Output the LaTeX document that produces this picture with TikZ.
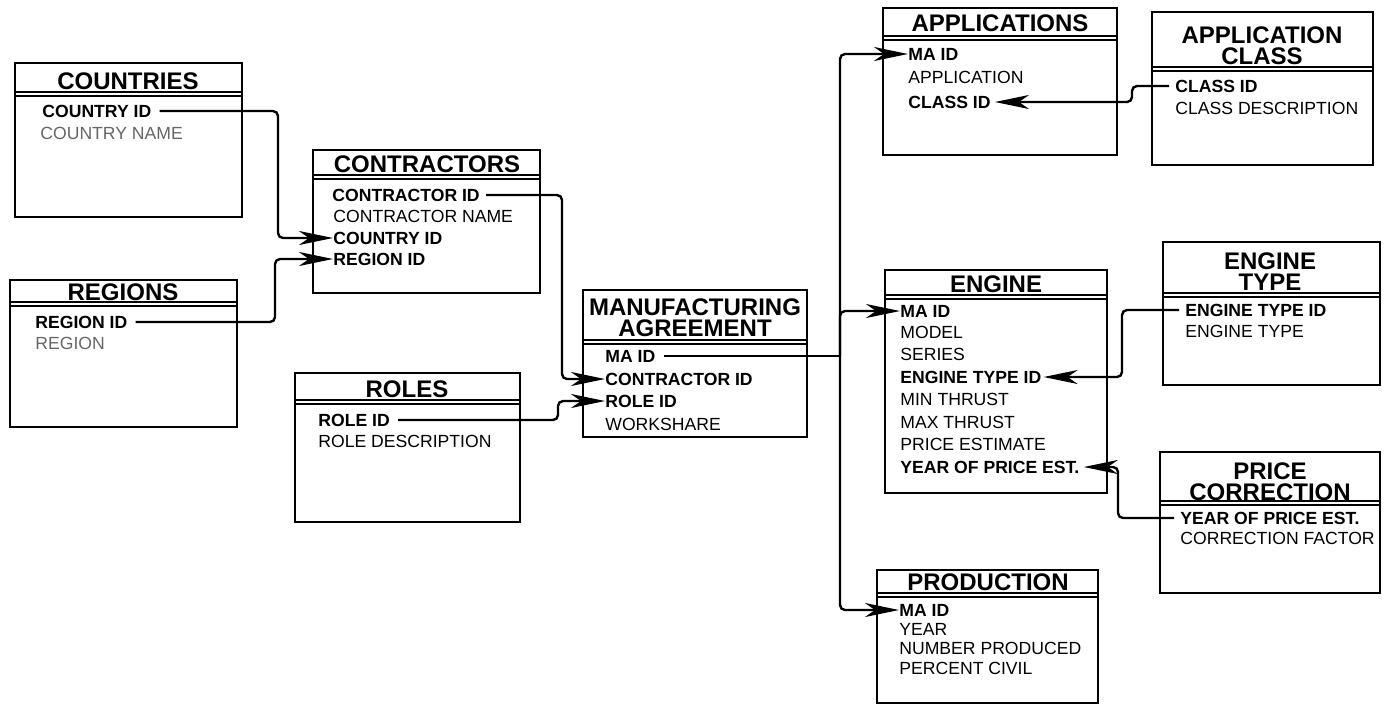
\documentclass[tikz,border=0pt]{standalone}
\usepackage{fontspec}
\setmainfont{Liberation Sans}
\usetikzlibrary{arrows.meta}
\tikzset{
  box/.style={draw, line width=1.3pt},
  sepl/.style={draw, line width=0.9pt},
  fld/.style={font=\fontsize{8.8}{10}\selectfont, inner sep=0pt, anchor=west},
  key/.style={fld, font=\fontsize{8.8}{10}\selectfont\bfseries},
  faint/.style={fld, text=black!60},
  ttl/.style={font=\fontsize{12}{10.6}\selectfont\bfseries, inner sep=0pt, align=center},
  conn/.style={line width=1.2pt, rounded corners=2.5pt},
  arr/.style={conn, -{Stealth[length=17pt,width=7pt,inset=5pt]}}
}
\newcommand\tabbox[5]{%
  \draw[box] (#1,#2) rectangle (#3,#4);
  \draw[sepl] (#1,#5) -- (#3,#5);
  \draw[sepl] (#1,#5+4) -- (#3,#5+4);}
\begin{document}
\begin{tikzpicture}[x=0.5pt,y=-0.5pt]
\path[use as bounding box] (0,0) rectangle (1385,719);

% COUNTRIES
\tabbox{15}{63}{242}{217}{92}
\node[ttl] (tcountries) at (128,81) {COUNTRIES};
\node[key] (cid) at (42,111) {COUNTRY ID};
\node[faint] (cname) at (40,133) {COUNTRY NAME};

% REGIONS
\tabbox{10}{280}{237}{427}{302}
\node[ttl] (tregions) at (123,292) {REGIONS};
\node[key] (rid) at (35,322) {REGION ID};
\node[faint] (rname) at (35,343) {REGION};

% CONTRACTORS
\tabbox{313}{150}{540}{293}{175}
\node[ttl] (tcontr) at (427,164) {CONTRACTORS};
\node[key] (ccid) at (332,195) {CONTRACTOR ID};
\node[fld] (ccname) at (333,216) {CONTRACTOR NAME};
\node[key] (ccountry) at (333,238) {COUNTRY ID};
\node[key] (cregion) at (333,259) {REGION ID};

% ROLES
\tabbox{295}{373}{520}{522}{400}
\node[ttl] (troles) at (407,389) {ROLES};
\node[key] (roleid) at (318,420) {ROLE ID};
\node[fld] (roledesc) at (318,441) {ROLE DESCRIPTION};

% MANUFACTURING AGREEMENT
\tabbox{583}{290}{807}{437}{340}
\node[ttl] (tma) at (695,318) {MANUFACTURING\\AGREEMENT};
\node[key] (maid) at (605,356) {MA ID};
\node[key] (macid) at (605,379) {CONTRACTOR ID};
\node[key] (marole) at (605,401) {ROLE ID};
\node[fld] (mawork) at (605,424) {WORKSHARE};

% APPLICATIONS
\tabbox{883}{8}{1117}{155}{36}
\node[ttl] (tapp) at (1000,23) {APPLICATIONS};
\node[key] (appma) at (908,54) {MA ID};
\node[fld] (appapp) at (908,77) {APPLICATION};
\node[key] (appcls) at (908,102) {CLASS ID};

% APPLICATION CLASS
\tabbox{1152}{12}{1373}{165}{67}
\node[ttl] (tappcls) at (1262,46) {APPLICATION\\CLASS};
\node[key] (acid) at (1175,86) {CLASS ID};
\node[fld] (acdesc) at (1175,108) {CLASS DESCRIPTION};

% ENGINE
\tabbox{885}{270}{1107}{493}{295}
\node[ttl] (teng) at (996,284) {ENGINE};
\node[key] (engma) at (900,311) {MA ID};
\node[fld] (engmodel) at (900,332) {MODEL};
\node[fld] (engseries) at (900,354) {SERIES};
\node[key] (engtid) at (900,377) {ENGINE TYPE ID};
\node[fld] (engmin) at (900,399) {MIN THRUST};
\node[fld] (engmax) at (900,422) {MAX THRUST};
\node[fld] (engprice) at (900,444) {PRICE ESTIMATE};
\node[key] (engyear) at (900,467) {YEAR OF PRICE EST.};

% ENGINE TYPE
\tabbox{1163}{242}{1380}{385}{293}
\node[ttl] (tet) at (1270,272) {ENGINE\\TYPE};
\node[key] (etid) at (1185,310) {ENGINE TYPE ID};
\node[fld] (etname) at (1185,331) {ENGINE TYPE};

% PRICE CORRECTION
\tabbox{1160}{452}{1380}{593}{501}
\node[ttl] (tpc) at (1270,482) {PRICE\\CORRECTION};
\node[key] (pcyear) at (1180,518) {YEAR OF PRICE EST.};
\node[fld] (pcfac) at (1180,538) {CORRECTION FACTOR};

% PRODUCTION
\tabbox{877}{570}{1098}{703}{593}
\node[ttl] (tprod) at (988,582) {PRODUCTION};
\node[key] (prodma) at (899,610) {MA ID};
\node[fld] (prodyear) at (899,629) {YEAR};
\node[fld] (prodnum) at (899,648) {NUMBER PRODUCED};
\node[fld] (prodciv) at (899,668) {PERCENT CIVIL};

% junction coordinates
\coordinate (jc) at (278,0);
\coordinate (jr) at (275,0);
\coordinate (jk) at (562,0);
\coordinate (jo) at (558,0);
\coordinate (jm) at (840,0);
\coordinate (ja) at (1132,0);
\coordinate (je) at (1122,0);
\coordinate (jy) at (1118,0);

% connectors
\draw[arr] ([xshift=4pt]cid.east) -- (cid.east -| jc) -- (ccountry.west -| jc) -- (ccountry.west);
\draw[arr] ([xshift=4pt]rid.east) -- (rid.east -| jr) -- (cregion.west -| jr) -- (cregion.west);
\draw[arr] ([xshift=3pt]ccid.east) -- (ccid.east -| jk) -- (macid.west -| jk) -- (macid.west);
\draw[arr] ([xshift=4pt]roleid.east) -- (roleid.east -| jo) -- (marole.west -| jo) -- (marole.west);
\draw[conn] ([xshift=4pt]maid.east) -- (maid.east -| jm);
\draw[arr] (maid.east -| jm) -- (appma.west -| jm) -- (appma.west);
\draw[arr] (maid.east -| jm) -- (engma.west -| jm) -- (engma.west);
\draw[arr] (maid.east -| jm) -- (prodma.west -| jm) -- (prodma.west);
\draw[arr] ([xshift=-3pt]acid.west) -- (acid.west -| ja) -- (appcls.east -| ja) -- ([xshift=2pt]appcls.east);
\draw[arr] ([xshift=-3pt]etid.west) -- (etid.west -| je) -- (engtid.east -| je) -- ([xshift=1pt]engtid.east);
\draw[arr] ([xshift=-3pt]pcyear.west) -- (pcyear.west -| jy) -- (engyear.east -| jy) -- ([xshift=2pt]engyear.east);
\end{tikzpicture}
\end{document}
